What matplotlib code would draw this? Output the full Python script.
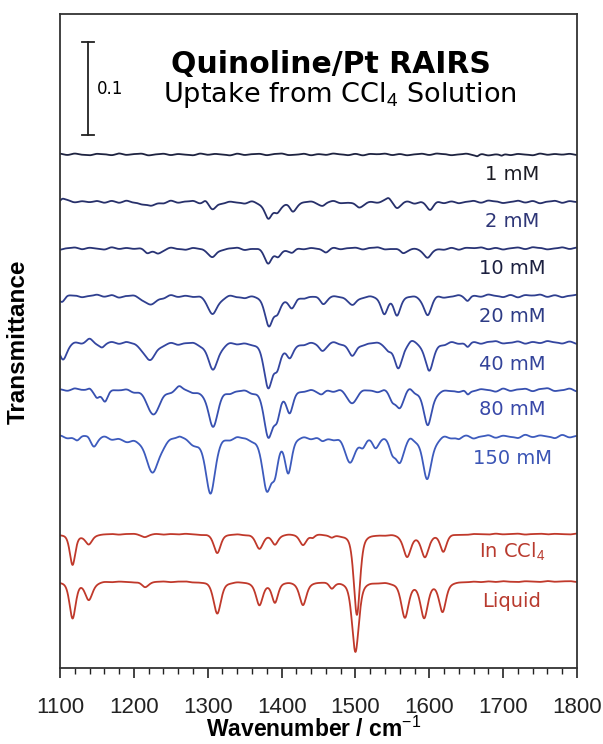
"""Quinoline/Pt RAIRS uptake spectra, stacked transmittance traces."""

import numpy as np
import matplotlib
matplotlib.use("Agg")
import matplotlib.pyplot as plt

plt.rcParams["mathtext.fontset"] = "custom"
plt.rcParams["mathtext.rm"] = "DejaVu Sans"

# bands: (centre cm-1, depth in transmittance, fwhm cm-1); negative depth = bump
bands_1mM = [(1665, 0.002, 6), (1698, 0.002, 6)]
bands_2mM = [(1103, -0.004, 8), (1222, 0.005, 16), (1297, -0.003, 8), (1307, 0.009, 12),
             (1382, 0.018, 12), (1394, 0.009, 10), (1415, 0.010, 11), (1456, 0.004, 10),
             (1504, 0.006, 12), (1545, -0.004, 8), (1556, 0.006, 10), (1601, 0.009, 11)]
bands_10mM = [(1218, 0.004, 10), (1232, 0.006, 12), (1307, 0.010, 13), (1382, 0.015, 12),
              (1395, 0.008, 10), (1415, 0.004, 10), (1460, 0.003, 10), (1564, 0.005, 10),
              (1598, 0.011, 12)]
bands_20mM = [(1103, 0.006, 10), (1222, 0.010, 18), (1307, 0.020, 15), (1383, 0.030, 13),
              (1394, 0.015, 11), (1414, 0.013, 12), (1456, 0.008, 11), (1497, 0.010, 13),
              (1539, 0.017, 11), (1556, 0.020, 11), (1598, 0.021, 12), (1652, 0.004, 7)]
bands_40mM = [(1104, 0.019, 13), (1140, -0.004, 10), (1157, 0.005, 9), (1222, 0.019, 20),
              (1307, 0.029, 16), (1382, 0.046, 14), (1394, 0.022, 11), (1411, 0.016, 11),
              (1455, 0.008, 11), (1496, 0.015, 13), (1545, 0.006, 10), (1558, 0.027, 13),
              (1575, -0.004, 10), (1600, 0.031, 13), (1652, 0.005, 7)]
bands_80mM = [(1140, -0.004, 8), (1150, 0.009, 9), (1161, 0.010, 9), (1227, 0.026, 20),
              (1262, -0.004, 10), (1307, 0.039, 16), (1382, 0.048, 14), (1394, 0.024, 11),
              (1411, 0.022, 11), (1455, 0.004, 10), (1495, 0.013, 15), (1550, 0.008, 10),
              (1560, 0.019, 13), (1574, -0.004, 10), (1598, 0.039, 13), (1652, 0.006, 7)]
bands_150mM = [(1123, 0.005, 10), (1138, -0.003, 8), (1146, 0.010, 10), (1195, 0.004, 34),
               (1226, 0.038, 20), (1262, -0.003, 10), (1285, 0.006, 28), (1304, 0.058, 15),
               (1380, 0.056, 14), (1391, 0.030, 11), (1409, 0.035, 11), (1455, 0.004, 10),
               (1493, 0.027, 17), (1510, 0.008, 9), (1527, 0.010, 10), (1550, 0.012, 10),
               (1560, 0.028, 13), (1574, -0.004, 10), (1597, 0.046, 14), (1640, 0.003, 8)]
bands_ccl4 = [(1117, 0.033, 9), (1139, 0.011, 11), (1215, 0.003, 11), (1313, 0.020, 11),
              (1370, 0.015, 12), (1391, 0.011, 10), (1429, 0.011, 11), (1442, 0.003, 7),
              (1468, 0.003, 8), (1502, 0.087, 10), (1570, 0.024, 12), (1594, 0.024, 12),
              (1619, 0.018, 10)]
bands_liquid = [(1117, 0.039, 10), (1139, 0.019, 12), (1215, 0.006, 11), (1313, 0.034, 12),
                (1370, 0.025, 11), (1391, 0.022, 10), (1429, 0.025, 11), (1468, 0.006, 8),
                (1500, 0.075, 11), (1567, 0.038, 12), (1593, 0.038, 12), (1618, 0.032, 11)]

# baseline ripple every 10 cm-1 from 1100, in units of 0.001 transmittance
ripple = [0.8, -0.6, 1.0, -0.3, -0.9, 0.7, 0.2, -0.8, 1.1, -0.5,
          0.4, 0.9, -1.0, 0.1, 0.8, -0.7, 0.5, -0.2, -0.9, 1.0,
          -0.4, 0.6, 0.0, -1.0, 0.9, -0.6, 0.3, 0.7, -0.8, 0.5,
          1.0, -0.7, -0.2, 0.8, -0.9, 0.4, -0.5, 1.0, 0.1, -0.8,
          0.7, -1.0, 0.6, 0.2, 0.9, -0.7, 0.5, -0.9, 0.1, 0.8,
          -0.6, 1.0, 0.4, -0.8, 0.0, 0.9, -0.5, 0.7, -1.0, 0.2,
          0.8, -0.7, 0.6, -0.1, -0.9, 1.0, -0.4, 0.5, -0.2, 0.7,
          -0.6]

labels = ["1 mM", "2 mM", "10 mM", "20 mM", "40 mM", "80 mM", "150 mM",
          "In CCl$_4$", "Liquid"]
all_bands = [bands_1mM, bands_2mM, bands_10mM, bands_20mM, bands_40mM,
             bands_80mM, bands_150mM, bands_ccl4, bands_liquid]
offsets = [0.552, 0.501, 0.451, 0.400, 0.350, 0.299, 0.249, 0.144, 0.093]
label_y = [0.525, 0.474, 0.424, 0.372, 0.320, 0.272, 0.219, 0.118, 0.066]
ripple_scale = [1.0, 1.5, 1.3, 1.6, 1.5, 1.8, 1.9, 0.5, 0.5]
ripple_roll = [0, 7, 13, 21, 29, 36, 44, 51, 58]
line_colors = ["#1e2340", "#27306a", "#283375", "#2f3f8f", "#3446a0",
               "#3750b0", "#3d5bbd", "#c0392b", "#c0392b"]
text_colors = ["#1c1c24", "#2e3677", "#1c2040", "#2d3b85", "#33439a",
               "#3848a8", "#3b55b5", "#b83a2e", "#b83a2e"]

wavenumber = np.linspace(1100, 1800, 1401)
ripple_pos = 1100 + 10 * np.arange(len(ripple))


def build_trace(bands, scale, roll):
    y = np.zeros_like(wavenumber)
    for centre, depth, fwhm in bands:
        u = (wavenumber - centre) / (fwhm / 2)
        # pseudo-Voigt, half Lorentzian / half Gaussian
        y -= depth * (0.5 / (1 + u ** 2) + 0.5 * np.exp(-np.log(2) * u ** 2))
    amps = np.roll(np.asarray(ripple), roll) * scale * 1e-3
    for centre, amp in zip(ripple_pos, amps):
        y += amp * np.exp(-0.5 * ((wavenumber - centre) / 4.0) ** 2)
    return y


fig = plt.figure(figsize=(6.03, 7.44), dpi=100)
ax = fig.add_axes([0.0995, 0.1022, 0.8574, 0.879])

for i, bands in enumerate(all_bands):
    trace = offsets[i] + build_trace(bands, ripple_scale[i], ripple_roll[i])
    ax.plot(wavenumber, trace, color=line_colors[i], lw=1.3)
    ax.text(1712, label_y[i], labels[i], color=text_colors[i], fontsize=14,
            family="DejaVu Sans", ha="center", va="baseline")

# 0.1 scale bar
ax.plot([1138, 1138], [0.573, 0.673], color="#222222", lw=1.3)
ax.plot([1130, 1146], [0.573, 0.573], color="#222222", lw=1.3)
ax.plot([1130, 1146], [0.673, 0.673], color="#222222", lw=1.3)
ax.text(1150, 0.622, "0.1", fontsize=12, family="DejaVu Sans", ha="left", va="center")

ax.text(1467, 0.640, "Quinoline/Pt RAIRS", fontsize=21.5, fontweight="bold",
        family="DejaVu Sans", ha="center", va="baseline")
ax.text(1479, 0.608, "Uptake from CCl$_4$ Solution", fontsize=19.5,
        family="DejaVu Sans", ha="center", va="baseline")

ax.set_xlim(1100, 1800)
ax.set_ylim(0, 0.703)
ax.set_yticks([])
ax.set_xticks(np.arange(1100, 1801, 100))
ax.set_xticks(np.arange(1100, 1801, 20), minor=True)
ax.tick_params(axis="x", which="major", direction="out", length=7, width=1.2,
               labelsize=16, pad=14, colors="#222222")
ax.tick_params(axis="x", which="minor", direction="out", length=4.5, width=1.0,
               colors="#222222")
for label in ax.get_xticklabels():
    label.set_family("Liberation Sans")
for spine in ax.spines.values():
    spine.set_color("#333333")
    spine.set_linewidth(1.3)

plt.rcParams["mathtext.rm"] = "Liberation Sans"
fig.text(0.52, 0.010, "Wavenumber / cm$^{-1}$", fontsize=16.5, fontweight="bold",
         family="Liberation Sans", ha="center", va="baseline")
fig.text(0.030, 0.540, "Transmittance", rotation=90, fontsize=17.5, fontweight="bold",
         family="Liberation Sans", ha="center", va="center")

fig.savefig("out.png", dpi=100)
